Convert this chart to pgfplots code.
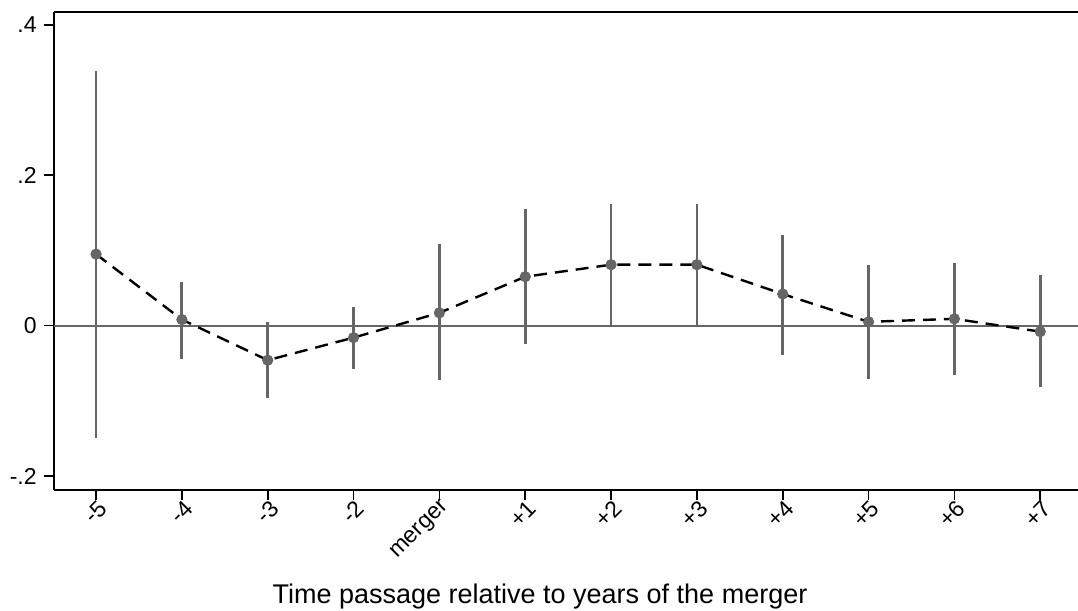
\documentclass[border=0pt]{standalone}
\usepackage{fontspec}
\setmainfont{Liberation Sans}
\usepackage{pgfplots}
\pgfplotsset{compat=1.18}
\definecolor{stgray}{RGB}{102,102,102}

\pgfplotstableread{
x y ep em
0  0.095 0.244 0.244
1  0.008 0.050 0.052
2 -0.046 0.051 0.050
3 -0.016 0.041 0.042
4  0.017 0.092 0.089
5  0.065 0.090 0.089
6  0.081 0.081 0.080
7  0.081 0.081 0.080
8  0.042 0.079 0.081
9  0.005 0.076 0.076
10 0.009 0.074 0.075
11 -0.008 0.075 0.074
}\est

\begin{document}
\begin{tikzpicture}
\begin{axis}[
  name=ax,
  scale only axis,
  width=512pt, height=239pt,
  xmin=-0.49, xmax=11.44,
  ymin=-0.2186, ymax=0.417,
  axis x line=box, axis y line=left,
  axis line style={line width=1pt, black, -},
  xtick={0,...,11},
  xticklabels={-5,-4,-3,-2,merger,+1,+2,+3,+4,+5,+6,+7},
  ytick={-0.2,0,0.2,0.4},
  yticklabels={-.2,0,.2,.4},
  xtick pos=bottom, ytick pos=left,
  tick align=outside,
  major tick length=5pt,
  every tick/.style={black, line width=0.8pt},
  tick label style={font=\fontsize{11.5}{13}\selectfont},
  xticklabel style={rotate=45, anchor=east, inner sep=0pt, xshift=1pt, yshift=-4pt},
  yticklabel style={inner sep=0pt, xshift=-3.5pt},
  xlabel={Time passage relative to years of the merger},
  xlabel style={font=\fontsize{13.5}{15}\selectfont, at={(axis description cs:0.4746,-0.2238)}, anchor=center},
  clip=false,
]
\addplot[stgray, line width=1pt, forget plot] coordinates {(-0.49,0) (11.44,0)};
\addplot[draw=none, mark=none,
  error bars/.cd, y dir=both, y explicit, error mark=none,
  error bar style={stgray, line width=1.4pt}]
  table[x=x, y=y, y error plus=ep, y error minus=em] {\est};
\addplot[black, line width=1.2pt, dash pattern=on 6.5pt off 4pt, mark=none] table[x=x, y=y] {\est};
\addplot[only marks, mark=*, mark size=2.6pt, mark options={fill=stgray, draw=stgray}] table[x=x, y=y] {\est};
\end{axis}
\pgfresetboundingbox
\path ([xshift=-27pt, yshift=-60.5pt]ax.south west) rectangle ([yshift=6pt]ax.north east);
\end{tikzpicture}
\end{document}
